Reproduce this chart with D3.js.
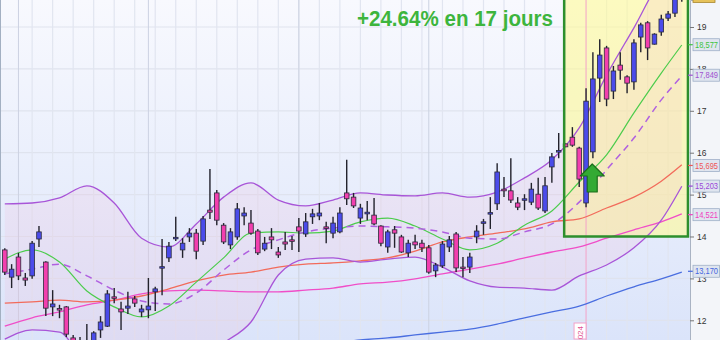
<!DOCTYPE html>
<html lang="fr">
<head>
<meta charset="UTF-8">
<script src="https://d3js.org/d3.v7.min.js"></script>
<style>
    body { margin: 0; background: #fff; }
    svg { display: block; font-family: "Liberation Sans", Arial, sans-serif; }
</style>
</head>
<body>
<svg id="chart" width="720" height="340"></svg>
<script>
// daily sessions, oldest first
var opens  = [13.68,13.03,13.51,13.01,13.06,13.94,13.39,12.32,12.28,12.32,11.58,11.50,11.30,11.35,11.77,11.86,12.56,12.27,12.29,12.51,
              12.20,12.25,12.68,13.26,13.49,13.95,13.68,13.99,14.08,13.89,14.63,15.04,14.27,13.80,13.99,14.49,14.32,14.13,13.70,13.99,
              13.63,13.87,13.92,14.23,14.06,14.47,14.49,14.23,14.08,14.11,15.04,14.94,14.44,14.54,14.51,14.25,13.75,14.16,13.99,13.61,
              13.87,13.84,13.73,13.18,13.30,13.75,14.06,13.27,13.27,13.99,14.34,14.55,14.78,15.13,15.09,14.80,14.89,14.82,15.01,14.61,
              15.66,16.04,16.21,16.37,16.11,14.80,16.02,17.78,18.50,17.47,18.09,17.81,17.69,18.76,19.10,18.59,18.88,19.21,19.33,19.72];
var highs  = [13.72,13.34,13.61,13.13,13.89,14.25,13.41,12.72,12.37,12.34,11.65,11.60,11.91,11.74,12.10,12.72,12.77,12.44,12.68,12.58,
              12.37,13.01,12.80,13.94,13.87,14.47,13.96,14.20,14.18,14.49,15.61,15.11,14.32,14.20,14.80,14.70,14.63,14.18,13.99,14.20,
              13.75,14.11,14.01,14.44,14.56,14.66,14.80,14.35,14.47,14.70,15.83,15.04,14.78,14.85,14.92,14.27,14.16,14.25,14.04,13.92,
              14.04,13.92,13.80,13.37,13.89,14.01,14.11,13.51,13.61,14.27,14.42,14.94,15.75,15.42,15.87,14.94,15.01,15.28,15.40,15.42,
              15.99,16.47,16.22,16.61,16.14,17.54,18.40,18.71,18.55,18.07,18.40,17.85,18.71,19.10,19.14,18.85,19.29,19.38,19.78,19.85];
var lows   = [13.08,12.77,12.96,12.82,12.99,13.75,12.10,12.10,12.05,11.60,11.43,11.35,11.25,11.28,11.58,11.84,12.41,11.77,12.15,12.32,
              12.08,12.05,12.22,12.60,13.39,13.89,13.49,13.87,13.46,13.80,14.42,14.27,13.82,13.70,13.92,14.27,14.04,13.56,13.65,13.70,
              13.49,13.68,13.68,13.63,13.99,14.30,14.39,13.84,13.96,14.08,14.75,14.68,14.30,14.39,14.27,13.77,13.61,13.73,13.61,13.51,
              13.70,13.63,13.11,13.03,13.25,13.63,13.15,13.03,13.13,13.84,14.04,14.18,14.63,14.94,14.80,14.63,14.63,14.75,14.63,14.56,
              15.28,15.87,16.13,16.14,15.18,14.70,15.87,17.21,17.11,17.28,17.74,17.42,17.50,18.40,18.21,18.58,18.79,19.14,19.24,19.60];
var closes = [13.15,13.22,13.06,12.96,13.84,14.11,12.29,12.39,12.27,11.67,11.51,11.52,11.45,11.70,11.96,12.63,12.53,12.20,12.34,12.41,
              12.27,12.34,12.75,13.28,13.77,13.98,13.84,14.08,13.65,14.42,14.58,14.39,13.87,14.11,14.66,14.56,14.08,13.61,13.84,13.92,
              13.56,13.82,13.91,14.13,14.35,14.54,14.56,14.22,14.32,14.56,14.90,14.73,14.68,14.58,14.30,13.84,14.11,14.08,13.63,13.84,
              13.80,13.73,13.15,13.32,13.82,13.92,13.25,13.26,13.51,14.13,14.35,14.57,15.54,15.09,14.87,14.70,14.90,15.13,14.68,15.21,
              15.90,16.05,16.14,16.18,15.37,17.23,17.76,18.33,17.28,17.95,17.97,17.66,18.62,19.05,18.50,18.83,19.19,19.31,19.70,19.73];

// indicator curves, read every 4 sessions
var lineIdx = [0,4,8,12,16,20,24,28,32,36,40,44,48,52,56,60,64,68,72,76,80,84,88,92,96,99];
var bbUpper = [14.78,14.80,14.92,15.21,14.80,13.96,13.75,14.30,14.94,15.28,14.87,14.73,14.87,15.04,14.99,14.97,15.04,14.94,15.06,15.40,15.83,16.59,17.85,18.98,20.12,20.46];
var bbLower = [11.55,11.77,11.72,10.91,10.65,10.96,11.03,11.00,11.46,11.96,13.08,13.46,13.49,13.39,13.46,13.51,13.27,12.94,12.79,12.77,12.72,13.06,13.32,13.73,14.39,15.20];
var bbMid   = [13.11,13.22,13.34,13.06,12.72,12.46,12.39,12.65,13.20,13.68,13.92,14.11,14.20,14.25,14.23,14.20,14.11,13.96,13.94,14.11,14.30,14.82,15.59,16.35,17.26,17.83];
var maGreen = [13.46,13.68,13.39,12.70,12.32,12.08,12.34,12.91,13.49,14.08,14.11,14.08,14.13,14.35,14.44,14.25,13.94,13.68,13.84,14.27,14.61,15.30,15.95,16.95,17.90,18.57];
var maRed   = [12.41,12.44,12.48,12.44,12.48,12.58,12.75,12.94,13.08,13.15,13.27,13.34,13.37,13.42,13.49,13.65,13.87,13.99,14.08,14.18,14.35,14.42,14.68,14.94,15.32,15.71];
var maPink  = [11.86,12.06,12.20,12.37,12.48,12.63,12.70,12.72,12.70,12.68,12.68,12.72,12.77,12.87,12.91,12.99,13.11,13.22,13.34,13.49,13.63,13.75,13.96,14.16,14.35,14.54];
var maBlue  = [10.77,10.81,10.86,10.91,10.96,11.03,11.08,11.15,11.20,11.27,11.34,11.41,11.46,11.53,11.58,11.65,11.72,11.79,11.91,12.06,12.20,12.34,12.58,12.80,12.99,13.15];

var priceTicks = [12,13,14,15,16,17,18,19];
var monthStarts = [2,21,43,62];
var yearStart = 85;
var yearText = "2024";
var lastVals = [18.577,17.849,15.695,15.203,14.521,13.170];
var gainText = "+24.64% en 17 jours";
// rally box: first/last session, low/high price
var rallyBox = [81.8,99.9,14.0,20.0];
var signalIdx = 85.9, signalPrice = 15.73;

var W = 690, H = 340;
var svg = d3.select("#chart");
var x = d3.scaleLinear().domain([-0.7, 100.2]).range([0, W]);
var y = d3.scaleLinear().domain([11.53, 19.644]).range([H, 0]);

var defs = svg.append("defs");
var bg = defs.append("linearGradient").attr("id","bg").attr("x1",0).attr("y1",0).attr("x2",0).attr("y2",1);
bg.append("stop").attr("offset","0%").attr("stop-color","#f8f9fe");
bg.append("stop").attr("offset","100%").attr("stop-color","#dbe4fa");
defs.append("clipPath").attr("id","plotClip").append("rect").attr("width",W).attr("height",H);

var plot = svg.append("g").attr("clip-path","url(#plotClip)");
plot.append("rect").attr("width",W).attr("height",H).attr("fill","url(#bg)");

// grid
plot.selectAll(".hgrid").data(priceTicks).enter().append("line")
    .attr("x1",0).attr("x2",W)
    .attr("y1",function(d){return y(d);}).attr("y2",function(d){return y(d);})
    .attr("stroke","#dfe3ee").attr("stroke-width",1.2);
var vIdx = d3.range(4, 100, 3).filter(function(d){ return d !== yearStart; });
plot.selectAll(".vgrid").data(vIdx).enter().append("line")
    .attr("x1",function(d){return x(d);}).attr("x2",function(d){return x(d);})
    .attr("y1",0).attr("y2",H)
    .attr("stroke","#e1e5f0").attr("stroke-width",1.2);
plot.selectAll(".month").data(monthStarts).enter().append("line")
    .attr("x1",function(d){return x(d);}).attr("x2",function(d){return x(d);})
    .attr("y1",0).attr("y2",H)
    .attr("stroke","#ccd2e2").attr("stroke-width",1);

// rally box fill
plot.append("rect")
    .attr("x",x(rallyBox[0])).attr("y",y(rallyBox[3]))
    .attr("width",x(rallyBox[1])-x(rallyBox[0]))
    .attr("height",y(rallyBox[2])-y(rallyBox[3]))
    .attr("fill","rgba(255,250,150,0.6)");

// bollinger fill
var pts = lineIdx.map(function(d,i){ return {i:d, hi:bbUpper[i], lo:bbLower[i]}; });
plot.append("path").datum(pts)
    .attr("d", d3.area().x(function(d){return x(d.i);})
        .y0(function(d){return y(d.lo);}).y1(function(d){return y(d.hi);})
        .curve(d3.curveMonotoneX))
    .attr("fill","#f2b0d6").attr("fill-opacity",0.16);

// year separator
plot.append("line")
    .attr("x1",x(yearStart)).attr("x2",x(yearStart)).attr("y1",0).attr("y2",H)
    .attr("stroke","#f3a2c8").attr("stroke-width",1);

var series = [
    {v: maBlue,  c: "#4a6ee0", w: 1.3},
    {v: maPink,  c: "#f04ec8", w: 1.3},
    {v: maRed,   c: "#f26b5b", w: 1.3},
    {v: maGreen, c: "#4ccc4c", w: 1.2},
    {v: bbMid,   c: "#b060e0", w: 1.5, dash: "7,5"},
    {v: bbUpper, c: "#a855d8", w: 1.3},
    {v: bbLower, c: "#a855d8", w: 1.3}
];
var line = d3.line().x(function(d){return x(d[0]);}).y(function(d){return y(d[1]);}).curve(d3.curveMonotoneX);
series.forEach(function(s){
    plot.append("path")
        .datum(lineIdx.map(function(d,i){ return [d, s.v[i]]; }))
        .attr("d", line).attr("fill","none")
        .attr("stroke", s.c).attr("stroke-width", s.w)
        .attr("stroke-dasharray", s.dash || null);
});

// candles
var candles = d3.range(opens.length).map(function(i){
    return {i:i, o:opens[i], h:highs[i], l:lows[i], c:closes[i]};
});
var cg = plot.selectAll(".candle").data(candles).enter().append("g");
cg.append("line")
    .attr("x1",function(d){return x(d.i);}).attr("x2",function(d){return x(d.i);})
    .attr("y1",function(d){return y(d.h);}).attr("y2",function(d){return y(d.l);})
    .attr("stroke","#22222c").attr("stroke-width",1.4);
cg.append("rect")
    .attr("x",function(d){return x(d.i)-2.3;})
    .attr("width",4.6)
    .attr("y",function(d){return y(Math.max(d.o,d.c));})
    .attr("height",function(d){return Math.max(1.5, Math.abs(y(d.o)-y(d.c)));})
    .attr("fill",function(d){return d.c >= d.o ? "#4b4bea" : "#f23fae";})
    .attr("stroke","#2a2a3a").attr("stroke-width",0.8);

// rally box border
plot.append("rect")
    .attr("x",x(rallyBox[0])).attr("y",y(rallyBox[3]))
    .attr("width",x(rallyBox[1])-x(rallyBox[0]))
    .attr("height",y(rallyBox[2])-y(rallyBox[3]))
    .attr("fill","none").attr("stroke","#2d8f2d").attr("stroke-width",2.5);

// buy arrow
var ax = x(signalIdx), ay = y(signalPrice);
plot.append("path")
    .attr("d","M"+ax+","+ay+" l12,12 h-7 v16 h-10 v-16 h-7 z")
    .attr("fill","#33aa33").attr("stroke","#1b6e1b").attr("stroke-width",1.2)
    .attr("stroke-linejoin","round");

// year tag at the bottom
var yt = plot.append("g").attr("transform","translate("+(x(yearStart)-6)+","+(H-1)+") rotate(-90)");
yt.append("rect").attr("x",0).attr("y",-6).attr("width",16).attr("height",12)
    .attr("fill","#fff").attr("stroke","#f3a2c8");
yt.append("text").attr("x",13).attr("y",3).attr("text-anchor","end")
    .attr("font-size","8px").attr("fill","#e0508f").text(yearText);

plot.append("text")
    .attr("x",357).attr("y",26)
    .attr("font-size","21.5px").attr("font-weight","bold")
    .attr("fill","#3db53d")
    .attr("textLength",196).attr("lengthAdjust","spacingAndGlyphs")
    .text(gainText);

plot.append("line").attr("x1",0.5).attr("x2",0.5).attr("y1",0).attr("y2",H)
    .attr("stroke","#a3b0c2").attr("stroke-width",1);

// right price axis
svg.append("rect").attr("x",W).attr("width",720-W).attr("height",H).attr("fill","#f3f5f9");
var axis = svg.append("g").attr("transform","translate("+W+",0)")
    .call(d3.axisRight(y).tickValues(priceTicks).tickSize(4).tickPadding(3).tickFormat(d3.format("d")));
axis.select(".domain").attr("stroke","#a9b3c3");
axis.selectAll(".tick line").attr("stroke","#777");
axis.selectAll("text").attr("font-size","8.5px").attr("fill","#333")
    .attr("font-family","Liberation Sans, Arial, sans-serif");

var labelColors = ["#3cc43c","#a050d0","#f05555","#9a45d8","#f040c0","#4466e0"];
var fmt = function(v){ return d3.format(".3f")(v).replace(".", ","); };
lastVals.forEach(function(v,i){
    var g = svg.append("g").attr("transform","translate("+W+","+y(v)+")");
    g.append("line").attr("x1",-2).attr("x2",3).attr("stroke",labelColors[i]).attr("stroke-width",1.2);
    g.append("rect").attr("x",3).attr("y",-6).attr("width",26.5).attr("height",12)
        .attr("fill","#dfe5ef").attr("stroke","#9fb0c8").attr("stroke-width",0.8);
    g.append("text").attr("x",5).attr("y",3.2)
        .attr("font-size","9px").attr("fill",labelColors[i])
        .attr("textLength",23).attr("lengthAdjust","spacingAndGlyphs")
        .text(fmt(v));
});
// last price tag, mostly above the frame
svg.append("rect").attr("x",W+3).attr("y",y(closes[closes.length-1])-6).attr("width",22).attr("height",12)
    .attr("fill","#e6c25a").attr("stroke","#a8862a").attr("stroke-width",0.8);
</script>
</body>
</html>
